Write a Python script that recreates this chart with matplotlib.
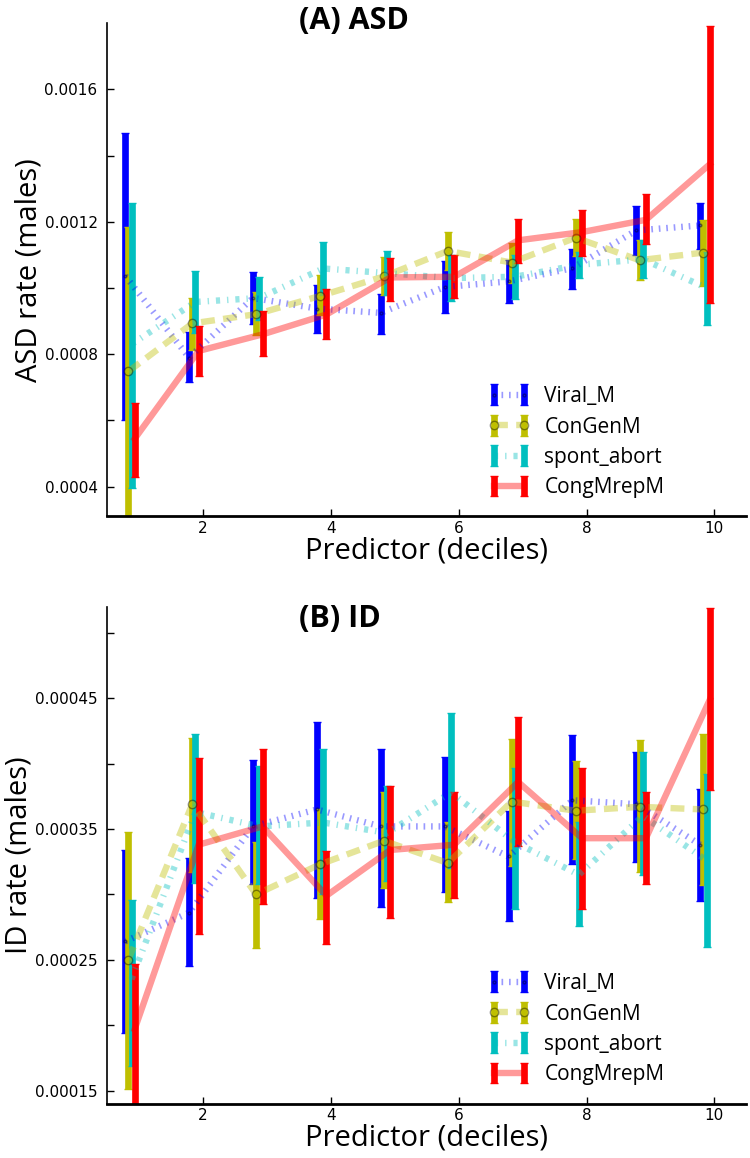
import matplotlib
matplotlib.use('Agg')
import matplotlib.pyplot as plt
from matplotlib.ticker import FixedLocator, FormatStrFormatter, NullFormatter
import numpy as np

plt.rcParams['lines.scale_dashes'] = False
plt.rcParams['font.size'] = 11

deciles = np.arange(1, 11)
names = ['Viral_M', 'ConGenM', 'spont_abort', 'CongMrepM']

# (A) ASD: centre, lower and upper ends of each bar
asd_viral = [0.001037, 0.00079, 0.00097, 0.000938, 0.000925, 0.001003, 0.00102, 0.00106, 0.001174, 0.001189]
asd_viral_lo = [0.000602, 0.000716, 0.00089, 0.000865, 0.000861, 0.000926, 0.000955, 0.000996, 0.0011, 0.001119]
asd_viral_hi = [0.001468, 0.000866, 0.001049, 0.001008, 0.000981, 0.001082, 0.001084, 0.001117, 0.001247, 0.001257]

asd_congen = [0.000748, 0.000893, 0.000921, 0.000976, 0.001035, 0.001112, 0.001077, 0.001152, 0.001084, 0.001107]
asd_congen_lo = [0.000312, 0.000813, 0.000858, 0.000918, 0.000978, 0.001054, 0.001014, 0.001096, 0.001024, 0.001006]
asd_congen_hi = [0.001184, 0.000971, 0.000988, 0.001038, 0.001094, 0.001169, 0.001136, 0.001209, 0.001144, 0.001206]

asd_spont = [0.00083, 0.000958, 0.00097, 0.001059, 0.001045, 0.00103, 0.001034, 0.00107, 0.001087, 0.001]
asd_spont_lo = [0.000397, 0.000864, 0.000903, 0.00098, 0.000978, 0.00096, 0.000968, 0.00103, 0.00103, 0.000888]
asd_spont_hi = [0.001256, 0.001052, 0.001034, 0.001139, 0.001112, 0.0011, 0.0011, 0.00111, 0.001144, 0.00111]

asd_rep = [0.000545, 0.00081, 0.00086, 0.00092, 0.001032, 0.001034, 0.001144, 0.001169, 0.001206, 0.001374]
asd_rep_lo = [0.00043, 0.000733, 0.000795, 0.000846, 0.000961, 0.000971, 0.001076, 0.001098, 0.001132, 0.000956]
asd_rep_hi = [0.000653, 0.000886, 0.000931, 0.000998, 0.001091, 0.0011, 0.001209, 0.001237, 0.001284, 0.00179]

# (B) ID
id_viral = [0.000264, 0.000286, 0.000352, 0.000365, 0.000352, 0.000352, 0.000329, 0.000372, 0.000369, 0.000338]
id_viral_lo = [0.000194, 0.000245, 0.000308, 0.000297, 0.00029, 0.000302, 0.00028, 0.000323, 0.000325, 0.000295]
id_viral_hi = [0.000334, 0.000328, 0.000403, 0.000432, 0.000411, 0.000405, 0.000364, 0.000422, 0.000409, 0.000381]

id_congen = [0.00025, 0.000369, 0.0003, 0.000323, 0.000341, 0.000324, 0.000371, 0.000364, 0.000367, 0.000365]
id_congen_lo = [0.000151, 0.000317, 0.000259, 0.000281, 0.000305, 0.000294, 0.000322, 0.000327, 0.000317, 0.000307]
id_congen_hi = [0.000348, 0.00042, 0.00034, 0.000365, 0.000378, 0.000355, 0.000419, 0.000402, 0.000418, 0.000423]

id_spont = [0.000235, 0.000363, 0.000352, 0.000355, 0.000347, 0.000378, 0.00034, 0.000315, 0.00036, 0.000326]
id_spont_lo = [0.000169, 0.000309, 0.000308, 0.0003, 0.00031, 0.00032, 0.000289, 0.000276, 0.000315, 0.00026]
id_spont_hi = [0.000296, 0.000423, 0.000398, 0.000411, 0.000383, 0.000439, 0.000397, 0.000355, 0.000409, 0.000392]

id_rep = [0.000197, 0.000338, 0.000352, 0.000299, 0.000334, 0.000338, 0.000386, 0.000343, 0.000343, 0.000449]
id_rep_lo = [0.00013, 0.00027, 0.000293, 0.000262, 0.000282, 0.000297, 0.000337, 0.000289, 0.000308, 0.00038]
id_rep_hi = [0.000247, 0.000404, 0.000411, 0.000333, 0.000383, 0.000378, 0.000436, 0.000397, 0.000378, 0.000519]

asd = [(asd_viral, asd_viral_lo, asd_viral_hi), (asd_congen, asd_congen_lo, asd_congen_hi),
       (asd_spont, asd_spont_lo, asd_spont_hi), (asd_rep, asd_rep_lo, asd_rep_hi)]
idd = [(id_viral, id_viral_lo, id_viral_hi), (id_congen, id_congen_lo, id_congen_hi),
       (id_spont, id_spont_lo, id_spont_hi), (id_rep, id_rep_lo, id_rep_hi)]

colors = [(0, 0, 1), (0.75, 0.75, 0), (0, 0.75, 0.75), (1, 0, 0)]
offsets = [-0.22, -0.17, -0.12, -0.07]
dashes = [(1.2, 4.2), (10, 6), (3, 5, 1, 5), None]
markers = ['.', 'o', 'None', 'None']

lab_font = 'Open Sans'

fig = plt.figure(figsize=(7.5, 11.58), dpi=100)
axA = fig.add_axes([0.143, 0.554, 0.852, 0.426])
axB = fig.add_axes([0.143, 0.047, 0.852, 0.429])


def panel(ax, data, title, ylabel, ylim, major, minor, fmt, title_y):
    for k, (c, lo, hi) in enumerate(data):
        c = np.array(c)
        err = [c - np.array(lo), np.array(hi) - c]
        eb = ax.errorbar(deciles + offsets[k], c, yerr=err, color=colors[k], ecolor=colors[k],
                         elinewidth=4.8, capsize=3, capthick=1, lw=4.6,
                         marker=markers[k], ms=6 if k == 1 else 4, mec='k', mfc=colors[k],
                         label=names[k])
        line = eb[0]
        line.set_alpha(0.4)
        line.set_zorder(3)
        if dashes[k] is not None:
            line.set_dashes(dashes[k])
    ax.set_xlim(0.5, 10.5)
    ax.set_ylim(*ylim)
    ax.set_xticks([2, 4, 6, 8, 10])
    ax.yaxis.set_major_locator(FixedLocator(major))
    ax.yaxis.set_minor_locator(FixedLocator(minor))
    ax.yaxis.set_major_formatter(FormatStrFormatter(fmt))
    ax.yaxis.set_minor_formatter(NullFormatter())
    ax.tick_params(which='both', direction='in', length=5, width=1, top=False, right=False)
    ax.tick_params(axis='y', pad=7)
    ax.spines['top'].set_visible(False)
    ax.spines['right'].set_visible(False)
    ax.spines['left'].set_linewidth(1.2)
    ax.spines['bottom'].set_linewidth(2)
    ax.set_xlabel('Predictor (deciles)', fontsize=21, family=lab_font, labelpad=0)
    ax.set_ylabel(ylabel, fontsize=21, family=lab_font, labelpad=1)
    ax.text(0.30, title_y, title, transform=ax.transAxes, ha='left', va='top',
            fontsize=22, fontweight='bold', family=lab_font)
    ax.legend(loc='lower right', bbox_to_anchor=(0.885, 0.02), borderaxespad=0,
              frameon=False, numpoints=2, prop={'family': lab_font, 'size': 15},
              handlelength=2.0, handletextpad=0.7, labelspacing=0.45)


panel(axA, asd, '(A) ASD', 'ASD rate (males)', (0.00031, 0.0018),
      [0.0004, 0.0008, 0.0012, 0.0016], [0.0006, 0.001, 0.0014], '%.4f', 1.035)
panel(axB, idd, '(B) ID', 'ID rate (males)', (0.00014, 0.00052),
      [0.00015, 0.00025, 0.00035, 0.00045], [0.0002, 0.0003, 0.0004, 0.0005], '%.5f', 1.005)

fig.savefig('out.png', dpi=100)
